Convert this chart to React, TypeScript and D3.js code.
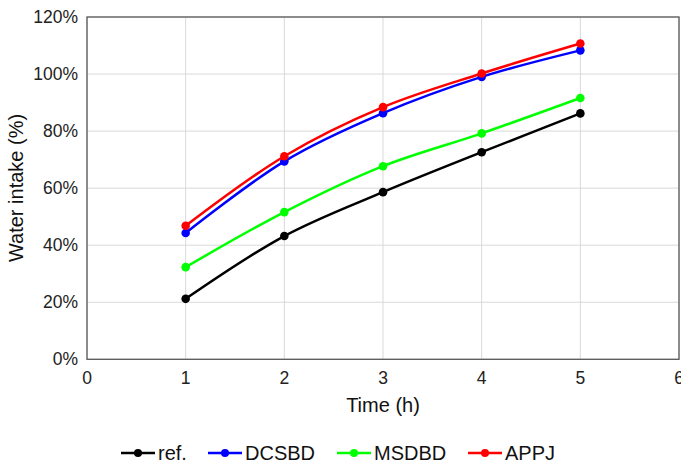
import React from "react";
import * as d3 from "d3";

const times = [1, 2, 3, 4, 5];
const seriesNames = ["ref.", "DCSBD", "MSDBD", "APPJ"];
const seriesColors = ["#000000", "#0000ff", "#00ff00", "#ff0000"];
const refValues = [21.2, 43.2, 58.6, 72.6, 86.2];
const dcsbdValues = [44.3, 69.4, 86.3, 99.0, 108.3];
const msdbdValues = [32.3, 51.6, 67.7, 79.2, 91.6];
const appjValues = [46.8, 71.2, 88.4, 100.2, 110.7];
const xTicks = [0, 1, 2, 3, 4, 5, 6];
const yTicks = [0, 20, 40, 60, 80, 100, 120];

const W = 681, H = 466;
const left = 87, right = 679, top = 17, bottom = 359.3;
const font = "'Liberation Sans', Arial, sans-serif";

export default function App() {
  const x = d3.scaleLinear().domain([0, 6]).range([left, right]);
  const y = d3.scaleLinear().domain([0, 120]).range([bottom, top]);
  const data = [refValues, dcsbdValues, msdbdValues, appjValues];
  const line = d3
    .line<number>()
    .x((_, i) => x(times[i]))
    .y((v) => y(v))
    .curve(d3.curveCatmullRom.alpha(0.5));
  const legendX = [121, 208, 337, 468];
  return (
    <svg width={W} height={H} style={{ position: "absolute", left: 0, top: 0 }}>
      <rect width={W} height={H} fill="#fff" />
      {xTicks.map((t) => (
        <line key={"gx" + t} x1={x(t)} x2={x(t)} y1={top} y2={bottom} stroke="#d9d9d9" strokeWidth={1} />
      ))}
      {yTicks.map((t) => (
        <line key={"gy" + t} x1={left} x2={right} y1={y(t)} y2={y(t)} stroke="#d9d9d9" strokeWidth={1} />
      ))}
      <rect x={left} y={top} width={right - left} height={bottom - top} fill="none" stroke="#595959" strokeWidth={1.3} />
      {yTicks.map((t) => (
        <text key={"ty" + t} x={78} y={y(t)} dy="0.35em" textAnchor="end" fontFamily={font} fontSize={17.5} fill="#222">
          {t}%
        </text>
      ))}
      {xTicks.map((t) => (
        <text key={"tx" + t} x={x(t)} y={377.5} dy="0.35em" textAnchor="middle" fontFamily={font} fontSize={17.5} fill="#222">
          {t}
        </text>
      ))}
      <text x={383} y={405} dy="0.35em" textAnchor="middle" fontFamily={font} fontSize={20} fill="#111">
        Time (h)
      </text>
      <text transform={`translate(16,188) rotate(-90)`} dy="0.35em" textAnchor="middle" fontFamily={font} fontSize={20} fill="#111">
        Water intake (%)
      </text>
      {data.map((vals, si) => (
        <g key={"s" + si}>
          <path d={line(vals) || ""} fill="none" stroke={seriesColors[si]} strokeWidth={2.5} />
          {vals.map((v, i) => (
            <circle key={i} cx={x(times[i])} cy={y(v)} r={4.3} fill={seriesColors[si]} />
          ))}
        </g>
      ))}
      {seriesNames.map((n, si) => (
        <g key={"l" + si}>
          <line x1={legendX[si]} x2={legendX[si] + 34} y1={453} y2={453} stroke={seriesColors[si]} strokeWidth={2.5} />
          <circle cx={legendX[si] + 17} cy={453} r={4} fill={seriesColors[si]} />
          <text x={legendX[si] + 37} y={453} dy="0.35em" fontFamily={font} fontSize={20} fill="#111">
            {n}
          </text>
        </g>
      ))}
    </svg>
  );
}
